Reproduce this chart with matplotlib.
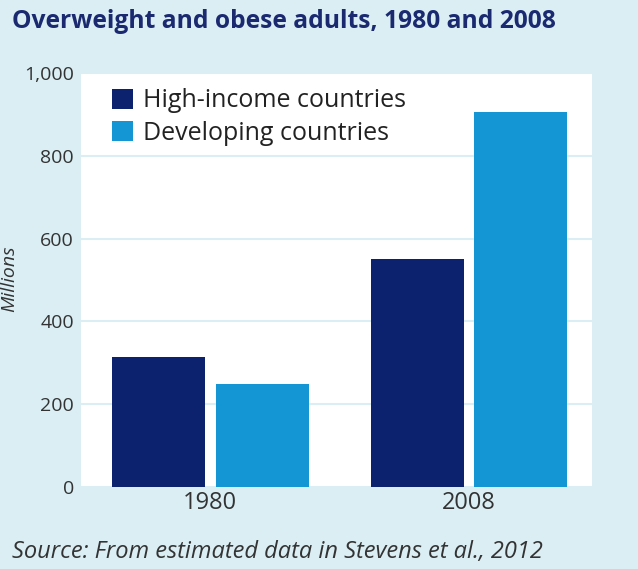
import matplotlib.pyplot as plt
import numpy as np

plt.rcParams['font.family'] = ['Open Sans', 'DejaVu Sans']

# Overweight and obese adults, millions
years = ["1980", "2008"]
high_income = [315, 550]
developing = [250, 905]
series_names = ["High-income countries", "Developing countries"]

navy = "#0c226e"
light_blue = "#1596d4"
bg = "#daeef4"

fig = plt.figure(figsize=(6.38, 5.69), dpi=100, facecolor=bg)
ax = fig.add_axes([81 / 638, 1 - 487 / 569, (592 - 81) / 638, (487 - 73) / 569])
ax.set_facecolor("white")

x = np.arange(len(years))
w = 0.36
ax.bar(x - 0.2, high_income, w, color=navy, label=series_names[0], zorder=3)
ax.bar(x + 0.2, developing, w, color=light_blue, label=series_names[1], zorder=3)

ax.set_xlim(-0.5, 1.475)
ax.set_ylim(0, 1000)
ax.set_yticks([0, 200, 400, 600, 800, 1000])
ax.set_yticklabels(["0", "200", "400", "600", "800", "1,000"])
ax.set_xticks(x)
ax.set_xticklabels(years)
ax.tick_params(axis="y", length=0, pad=5, labelsize=14, labelcolor="#333333")
ax.tick_params(axis="x", length=0, pad=3, labelsize=17, labelcolor="#333333")
ax.grid(axis="y", color=bg, linewidth=1.5, zorder=1)
for s in ax.spines.values():
    s.set_visible(False)

ax.set_ylabel("Millions", style="italic", fontsize=14, color="#333333")
ax.yaxis.set_label_coords((18 - 81) / 511, (487 - 279) / 414)

leg = ax.legend(loc="upper left", bbox_to_anchor=(0.024, 1.008), frameon=False,
                fontsize=18, handlelength=0.85, handleheight=0.85,
                handletextpad=0.4, labelspacing=0.3, borderaxespad=0.35)
for t in leg.get_texts():
    t.set_color("#222222")

fig.text(12 / 638, 1 - 22 / 569, "Overweight and obese adults, 1980 and 2008",
         fontsize=17.7, fontweight="bold", color="#1b2a70", va="center", ha="left")
fig.text(12 / 638, 1 - 552 / 569, "Source: From estimated data in Stevens et al., 2012",
         fontsize=17, style="italic", color="#333333", va="center", ha="left")

fig.savefig("out.png", dpi=100, facecolor=bg)
